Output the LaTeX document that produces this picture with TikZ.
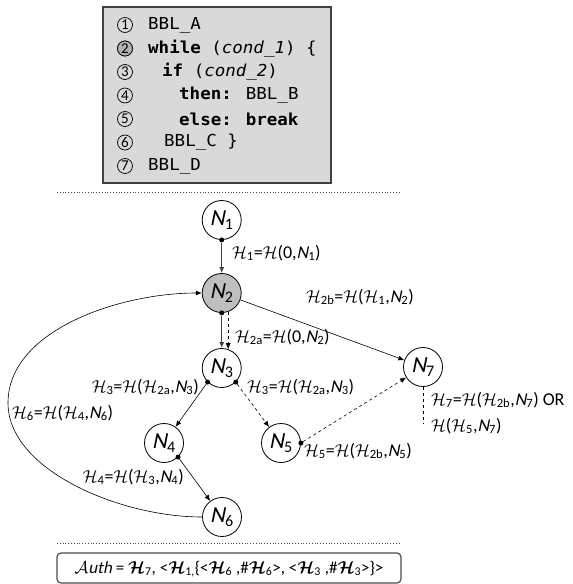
\documentclass[tikz,border=0pt]{standalone}
\usepackage{fontspec}
\usepackage{bm}
\setmainfont{Carlito}
\newfontfamily\slantfont[FakeSlant=0.2]{Carlito}
\newfontfamily\codefont[FakeStretch=1.06]{DejaVu Sans Mono}
\usetikzlibrary{arrows.meta}
% calligraphic hash with a text subscript
\newcommand\Hs[1]{$\mathcal{H}$\textsubscript{#1}}
\newcommand\Nv[1]{{\slantfont N}\textsubscript{#1}}
\newcommand\Hb[1]{$\bm{\mathcal{H}}$\textsubscript{#1}}
\begin{document}
\begin{tikzpicture}[x=1pt,y=-1pt,
  vertex/.style={circle,draw,line width=0.8pt,minimum size=39pt,inner sep=0pt,
    font=\fontsize{23}{25}\selectfont},
  numring/.style={circle,draw,line width=0.7pt,minimum size=15pt,inner sep=0pt,
    font=\fontsize{15}{15}\selectfont},
  codeline/.style={anchor=west,inner sep=0pt,font=\codefont\fontsize{16.5}{18}\selectfont},
  hlabel/.style={inner sep=0pt,font=\fontsize{18}{20}\selectfont},
  tip/.style={-{Latex[length=6pt,width=5pt]}},
  heavy/.style={line width=1.1pt,draw=black!75},
  thin/.style={line width=0.6pt},
  knot/.style={circle,fill,inner sep=0pt,minimum size=5pt},
  sep/.style={dotted,line width=0.8pt,draw=black!70}]
\useasboundingbox (0,0) rectangle (573,584);

% program listing
\node[draw=black!75,line width=1.2pt,fill=black!15,minimum width=228pt,minimum height=176pt,
  inner sep=0pt] (code) at (217,95) {};
\foreach \k/\yy in {1/25,2/48.5,3/72,4/95.5,5/119,6/142.5,7/166}{
  \node[numring] (c\k) at (125,\yy) {\k};
}
\node[numring,fill=black!30] at (c2) {2};
\node[codeline] (l1) at (148,25) {BBL\_A};
\node[codeline] (l2) at (148,48.5) {\textbf{while} (\textit{cond\_1}) \{};
\node[codeline] (l3) at (162,72) {\textbf{if} (\textit{cond\_2})};
\node[codeline] (l4) at (179,95.5) {\textbf{then:} BBL\_B};
\node[codeline] (l5) at (179,119) {\textbf{else: break}};
\node[codeline] (l6) at (164,142.5) {BBL\_C \}};
\node[codeline] (l7) at (148,166) {BBL\_D};

% separators
\coordinate (s1a) at (57,192); \coordinate (s1b) at (399,192);
\coordinate (s2a) at (57,543); \coordinate (s2b) at (399,543);
\draw[sep] (s1a) -- (s1b);
\draw[sep] (s2a) -- (s2b);

% flow graph
\node[vertex] (N1) at (221.7,220) {\Nv{1}};
\node[vertex,fill=black!25] (N2) at (221.7,293) {\Nv{2}};
\node[vertex] (N3) at (221.7,368) {\Nv{3}};
\node[vertex] (N4) at (164,443) {\Nv{4}};
\node[vertex] (N5) at (281,443) {\Nv{5}};
\node[vertex] (N6) at (222,517) {\Nv{6}};
\node[vertex] (N7) at (423,367) {\Nv{7}};

\node[knot] (d1) at (N1.south) {};
\node[knot] (d2) at (N2.south) {};
\node[knot] (d3l) at (N3.south west) {};
\node[knot] (d3r) at (N3.south east) {};
\node[knot] (d4) at (N4.south east) {};
\node[knot] (d5) at (N5.east) {};

\draw[heavy,tip] (d1) -- (N1.south |- N2.north);
\draw[heavy,tip] (d2) -- (N2.south |- N3.north);
\draw[thin,dashed,tip] ([yshift=-0.5pt]N2.-71) -- (N3.71);
\draw[thin,tip] (N2) -- (N7);
\draw[thin,tip] (d3l) -- (N4);
\draw[thin,dashed,tip] (d3r) -- (N5);
\draw[thin,tip] (d4) -- (N6);
\draw[thin,dashed,tip] (d5) -- (N7);
\draw[thin,tip] (N6.west) .. controls (120,517) and (8,470) .. (8,403)
  .. controls (8,330) and (120,293) .. (N2.west);
\coordinate (t7) at (423,423);
\draw[thin,dashed] (N7.south) -- (t7);

% hash labels
\node[hlabel,anchor=west] (h1) at (232,253) {\Hs{1}=$\mathcal{H}$(0,\Nv{1})};
\node[hlabel,anchor=west] (h2b) at (306,297) {\Hs{2b}=$\mathcal{H}$(\Hs{1},\Nv{2})};
\node[hlabel,anchor=west] (h2a) at (235,337) {\Hs{2a}=$\mathcal{H}$(0,\Nv{2})};
\node[hlabel,anchor=east] (h3l) at (199,387) {\Hs{3}=$\mathcal{H}$(\Hs{2a},\Nv{3})};
\node[hlabel,anchor=west] (h3r) at (247,387) {\Hs{3}=$\mathcal{H}$(\Hs{2a},\Nv{3})};
\node[hlabel,anchor=west] (h6) at (12,413) {\Hs{6}=$\mathcal{H}$(\Hs{4},\Nv{6})};
\node[hlabel,anchor=east] (h4) at (184,477) {\Hs{4}=$\mathcal{H}$(\Hs{3},\Nv{4})};
\node[hlabel,anchor=west] (h5) at (304,451) {\Hs{5}=$\mathcal{H}$(\Hs{2b},\Nv{5})};
\node[hlabel,anchor=west] (h7a) at (431,400) {\Hs{7}=$\mathcal{H}$(\Hs{2b},\Nv{7}) OR};
\node[hlabel,anchor=west] (h7b) at (431,426) {$\mathcal{H}$(\Hs{5},\Nv{7})};

% authentication tuple
\node[draw=black!70,line width=1.2pt,rounded corners=4pt,minimum width=344pt,minimum height=30pt,
  inner sep=0pt] (authbox) at (229,568) {};
\node[inner sep=0pt,font=\fontsize{17}{19}\selectfont] (auth) at (229,569)
  {$\mathcal{A}${\slantfont uth} = \Hb{7}, <\Hb{1,}\{<\Hb{6} ,\#\Hb{6}>, <\Hb{3} ,\#\Hb{3}>\}>};
\end{tikzpicture}
\end{document}
